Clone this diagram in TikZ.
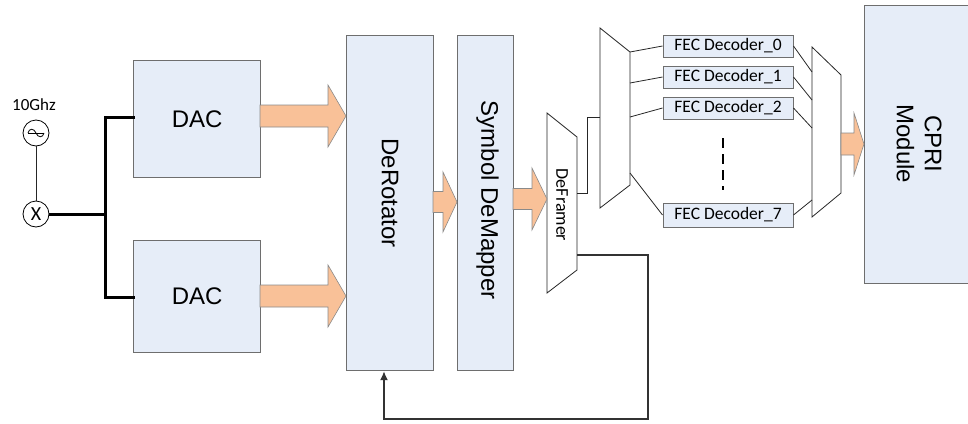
\documentclass[tikz,border=0pt]{standalone}
\usepackage{fontspec}
\setmainfont{Carlito}
\newfontfamily\arialf{Liberation Sans}
\usetikzlibrary{arrows.meta}
\definecolor{boxfill}{HTML}{E6EDF8}
\definecolor{boxline}{HTML}{6E6E6E}
\definecolor{peach}{HTML}{F9C198}
\definecolor{peachline}{HTML}{8A8A8A}
\tikzset{
  blk/.style={draw=boxline, fill=boxfill, line width=1.2pt, inner sep=0pt, anchor=north west},
  bigtxt/.style={font=\arialf\fontsize{24}{28}\selectfont},
  fecbox/.style={draw=boxline, fill=boxfill, line width=1pt, inner sep=0pt, minimum width=130, minimum height=22, font=\fontsize{17.5}{20}\selectfont},
  fatarrow/.style={fill=peach, draw=peachline, line width=0.6pt, line join=miter},
  trap/.style={draw=black!85, fill=white, line width=0.8pt},
  thinln/.style={draw=black!85, line width=0.8pt},
  busln/.style={draw=black, line width=3pt},
  circ/.style={draw=black, fill=white, circle, line width=0.8pt, minimum size=26, inner sep=0pt},
}
\newcommand{\fatarr}[6]{% x0, xh, xt, yc, body half, head half
  \filldraw[fatarrow] (#1,{#4-#5}) -- (#2,{#4-#5}) -- (#2,{#4-#6}) -- (#3,#4) -- (#2,{#4+#6}) -- (#2,{#4+#5}) -- (#1,{#4+#5}) -- cycle;}
\begin{document}
\begin{tikzpicture}[x=1pt,y=-1pt]
\useasboundingbox (0,0) rectangle (968,423);
\clip (0,0) rectangle (968,423);
% oscillator and mixer
\node[font=\fontsize{17}{20}\selectfont] (freq) at (34,105) {10Ghz};
\node[circ] (osc) at (36,133) {};
\draw[line width=0.8pt] ([xshift=-8]osc.center) -- ([xshift=8]osc.center);
\draw[line width=0.8pt] ([xshift=-8]osc.center) .. controls ([xshift=-7,yshift=5]osc.center) and ([xshift=-2,yshift=5]osc.center) .. (osc.center) .. controls ([xshift=2,yshift=-5]osc.center) and ([xshift=7,yshift=-5]osc.center) .. ([xshift=8]osc.center);
\node[circ, font=\fontsize{20}{22}\selectfont] (mix) at (36,214) {X};
\draw[thinln] (osc) -- (mix);
% DACs
\node[blk, minimum width=127, minimum height=117, bigtxt] (dac1) at (133,60) {DAC};
\node[blk, minimum width=127, minimum height=112, bigtxt] (dac2) at (133,240) {DAC};
\coordinate (bt) at (105,117);
\coordinate (bb) at (105,297);
\coordinate (bm) at (105,214);
\draw[busln] (mix.east) -- (bm);
\draw[busln, line cap=rect] (dac1.west |- bt) -- (bt) -- (bb) -- (dac2.west |- bb);
% main blocks
\node[blk, minimum width=87, minimum height=335] (derot) at (346,35) {};
\node[rotate=-90, bigtxt] at ([yshift=10]derot.center) {DeRotator};
\node[blk, minimum width=56, minimum height=335] (sdm) at (457,35) {};
\node[rotate=-90, bigtxt] at ([xshift=2,yshift=3]sdm.center) {Symbol DeMapper};
% DeFramer trapezoid
\coordinate (df1) at (547,113);
\coordinate (df2) at (577,137);
\coordinate (df3) at (577,270);
\coordinate (df4) at (547,293);
\draw[trap] (df1) -- (df2) -- (df3) -- (df4) -- cycle;
\node[rotate=-90, font=\fontsize{18}{20}\selectfont] (dfr) at (562,205) {DeFramer};
% demux
\coordinate (dm1) at (600,28);
\coordinate (dm2) at (630,52);
\coordinate (dm3) at (630,185);
\coordinate (dm4) at (600,208);
\draw[trap] (dm1) -- (dm2) -- (dm3) -- (dm4) -- cycle;
% mux
\coordinate (mx1) at (812,47);
\coordinate (mx2) at (841,75);
\coordinate (mx3) at (841,193);
\coordinate (mx4) at (812,217);
\draw[trap] (mx1) -- (mx2) -- (mx3) -- (mx4) -- cycle;
% FEC decoders
\node[fecbox] (fec0) at (728,46) {FEC Decoder\_0};
\node[fecbox] (fec1) at (728,77) {FEC Decoder\_1};
\node[fecbox] (fec2) at (728,108) {FEC Decoder\_2};
\node[fecbox, minimum height=24] (fec7) at (728,215) {FEC Decoder\_7};
\draw[line width=1.6pt, dash pattern=on 10pt off 6pt] (723,138) -- (723,190);
% connections demux -> fec
\draw[thinln] (630,52) -- (fec0.west);
\draw[thinln] (630,83) -- (fec1.west);
\draw[thinln] (630,117) -- (fec2.west);
\draw[thinln] (630,173) -- (fec7.west);
% fec -> mux
\draw[thinln] (fec0.east) -- (812,72);
\draw[thinln] (fec1.east) -- (812,100);
\draw[thinln] (fec2.east) -- (812,128);
\draw[thinln] (fec7.east) -- (812,200);
% deframer -> demux
\draw[thinln] (577,193) -- (587,193) -- (587,117) -- (600,117);
% CPRI
\node[blk, minimum width=120, minimum height=278] (cpri) at (864,5) {};
\node[rotate=-90, align=center, bigtxt] at (919,144) {CPRI\\Module};
% fat arrows
\fatarr{260}{328}{346}{116}{11}{31}
\fatarr{260}{328}{346}{296}{11}{31}
\fatarr{433}{443}{457}{202}{10.5}{30}
\fatarr{513}{532}{547}{199}{10.5}{31}
\fatarr{841}{854}{864}{144}{11}{31}
% feedback
\draw[draw=black!80, line width=1.5pt, -{Latex[length=9pt,width=8pt]}] (577,255) -- (648,255) -- (648,419) -- (384,419) -- (derot.south -| 384,0);
\end{tikzpicture}
\end{document}
